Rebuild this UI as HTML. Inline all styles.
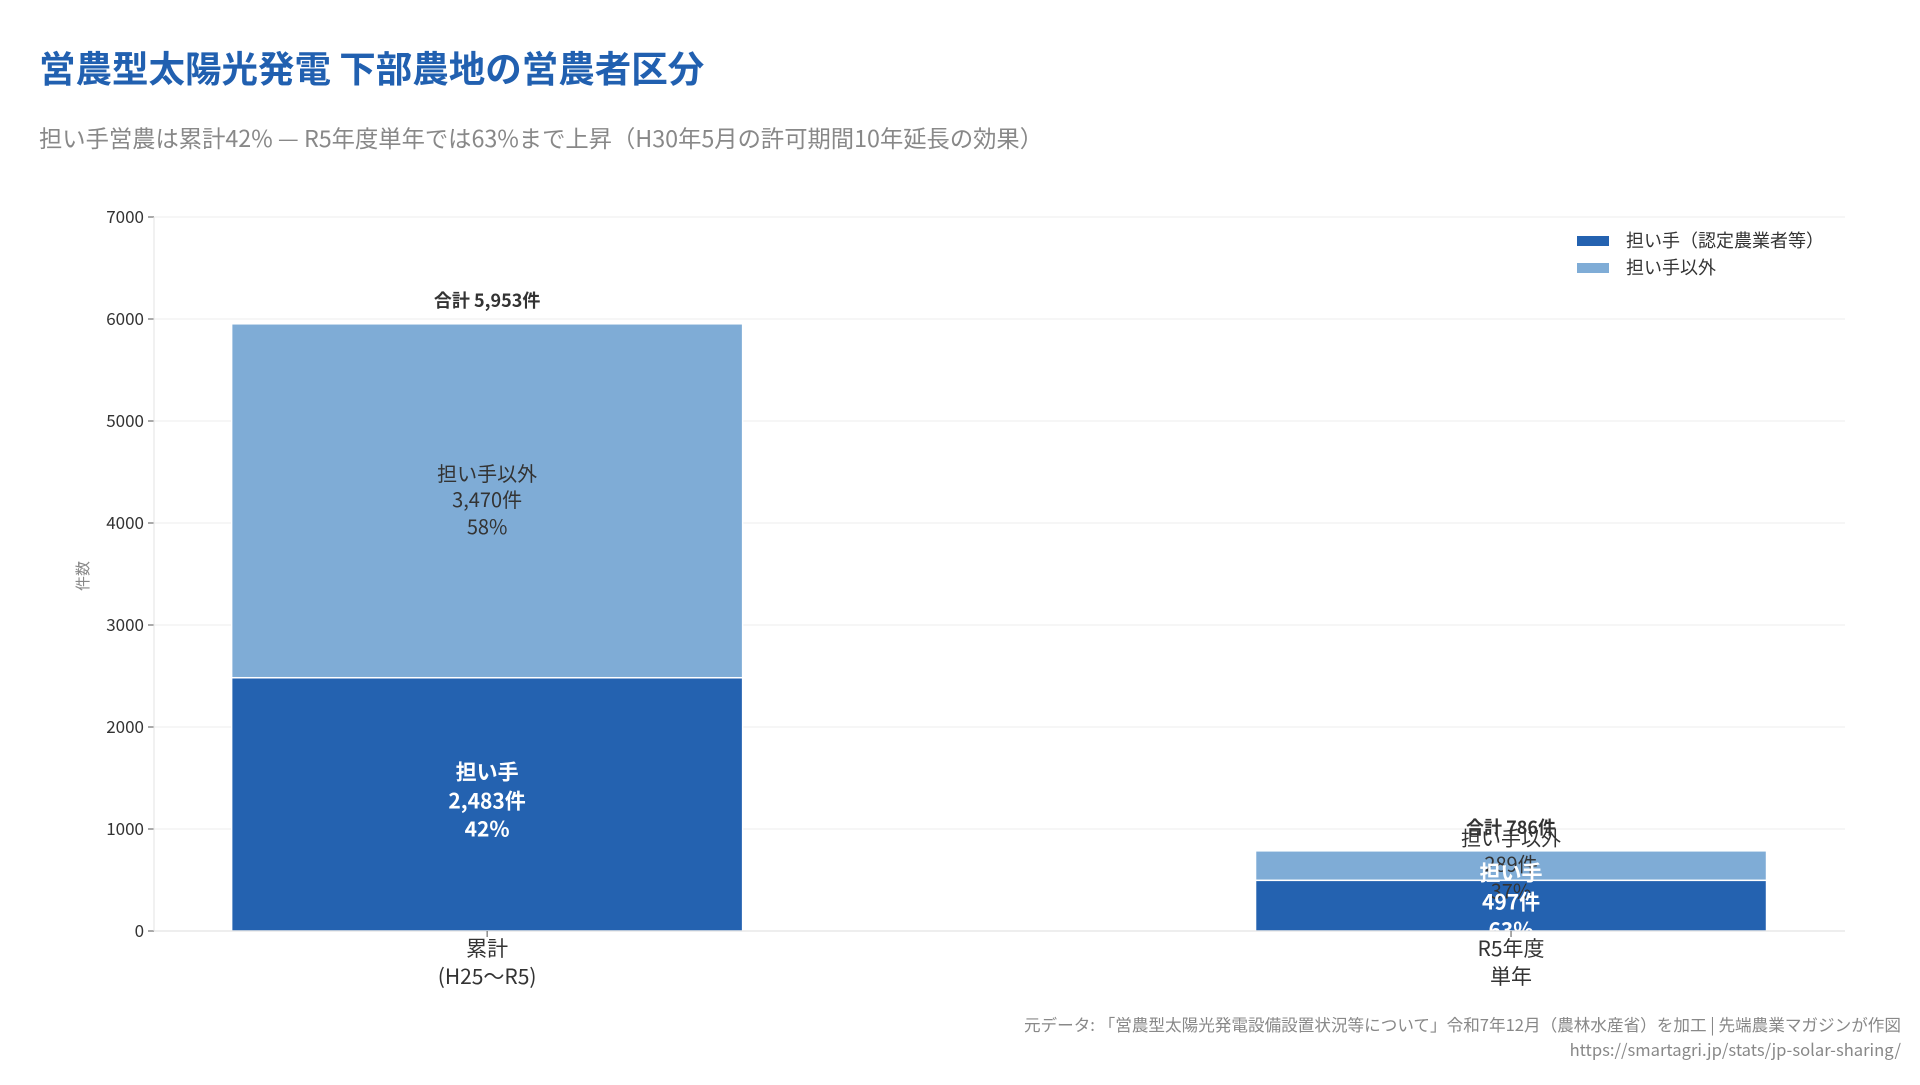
<!DOCTYPE html>
<html><head><meta charset="utf-8"><style>
body{margin:0;width:1920px;height:1080px;background:#fff;font-family:"Noto Sans CJK JP","Liberation Sans",sans-serif;overflow:hidden}
</style></head><body>
<svg id="chart" width="1920" height="1080" xmlns="http://www.w3.org/2000/svg" font-family="Noto Sans CJK JP, Liberation Sans, sans-serif">
<text x="39" y="82" font-size="36.5" font-weight="bold" fill="#2160b0">営農型太陽光発電 下部農地の営農者区分</text>
<text x="39" y="147" font-size="23.3" fill="#888">担い手営農は累計42% — R5年度単年では63%まで上昇（H30年5月の許可期間10年延長の効果）</text>
<g id="grid"></g>
<g id="yaxis"></g>
<text transform="translate(88,576) rotate(-90)" font-size="15" fill="#888" text-anchor="middle">件数</text>
<g id="bars"></g>
<g id="xaxis"></g>
<g>
<rect x="1577" y="236" width="32" height="10" fill="#2462b0"/>
<text x="1626" y="247" font-size="18" fill="#333">担い手（認定農業者等）</text>
<rect x="1577" y="263" width="32" height="10" fill="#7facd6"/>
<text x="1626" y="274" font-size="18" fill="#333">担い手以外</text>
</g>
<text x="1901" y="1031" font-size="16.6" fill="#888" text-anchor="end">元データ: 「営農型太陽光発電設備設置状況等について」令和7年12月（農林水産省）を加工 | 先端農業マガジンが作図</text>
<text x="1901" y="1056" font-size="16.6" fill="#888" text-anchor="end">https://smartagri.jp/stats/jp-solar-sharing/</text>
</svg>
<script>
const categories = [["累計","(H25〜R5)"],["R5年度","単年"]];
const ninaite = [2483, 497];
const others = [3470, 289];
const yTicks = [0,1000,2000,3000,4000,5000,6000,7000];
const NS="http://www.w3.org/2000/svg";
const X0=154,X1=1845,Y0=931,Y7=217,YMAX=7000,BW=511;
const y=v=>Y0-(v/YMAX)*(Y0-Y7);
const xc=i=>X0+(X1-X0)*(0.197+i*0.6055);
function mk(tag,attrs,parent,txt){const e=document.createElementNS(NS,tag);for(const k in attrs)e.setAttribute(k,attrs[k]);if(txt!==undefined)e.textContent=txt;parent.appendChild(e);return e;}
const grid=document.getElementById('grid'),ya=document.getElementById('yaxis'),bars=document.getElementById('bars'),xa=document.getElementById('xaxis');
yTicks.forEach(t=>{
  const l=mk('line',{x1:X0,x2:X1,y1:y(t),y2:y(t),stroke:'#ececec','stroke-width':1},grid);
  
  
  const tk=mk('line',{x1:X0-6,x2:X0,y1:y(t),y2:y(t),stroke:'#555'},ya);
  
  
  const tx=mk('text',{x:X0-10,y:y(t)+6,'font-size':17,fill:'#333','text-anchor':'end'},ya,String(t));
  
  
});
mk('line',{x1:X0,x2:X0,y1:Y7,y2:Y0,stroke:'#e3e3e3'},ya);
mk('line',{x1:X0,x2:X1,y1:Y0,y2:Y0,stroke:'#dcdcdc'},xa);
categories.forEach((c,i)=>{
  const cx=xc(i),a=ninaite[i],b=others[i],tot=a+b;
  const r1=mk('rect',{x:cx-BW/2,y:y(a),width:BW,height:Y0-y(a),fill:'#2462b0',stroke:'#fff','stroke-width':1.5},bars);
  
  
  const r2=mk('rect',{x:cx-BW/2,y:y(tot),width:BW,height:y(a)-y(tot),fill:'#7facd6',stroke:'#fff','stroke-width':1.5},bars);
  
  
  const pa=Math.round(a/tot*100),pb=100-pa;
  const mb=(y(a)+y(tot))/2;
  [['担い手以外',-27],[b.toLocaleString('en-US')+'件',-1],[pb+'%',26]].forEach(([s,o])=>{
    const t=mk('text',{x:cx,y:mb+o+7,'font-size':20,fill:'#333','text-anchor':'middle'},bars,s);
    
    
  });
  const ma=(Y0+y(a))/2;
  [['担い手',-32],[a.toLocaleString('en-US')+'件',-3],[pa+'%',25]].forEach(([s,o])=>{
    const t=mk('text',{x:cx,y:ma+o+7,'font-size':21,'font-weight':'bold',fill:'#fff','text-anchor':'middle'},bars,s);
    
    
  });
  const tt=mk('text',{x:cx,y:y(tot)-17,'font-size':18,'font-weight':'bold',fill:'#333','text-anchor':'middle'},bars,'合計 '+tot.toLocaleString('en-US')+'件');
  
  
  mk('line',{x1:cx,x2:cx,y1:Y0,y2:Y0+6,stroke:'#555'},xa);
  c.forEach((s,j)=>{
    const t=mk('text',{x:cx,y:956+j*28,'font-size':21,fill:'#333','text-anchor':'middle'},xa,s);
    
    
  });
});
</script>
</body></html>
